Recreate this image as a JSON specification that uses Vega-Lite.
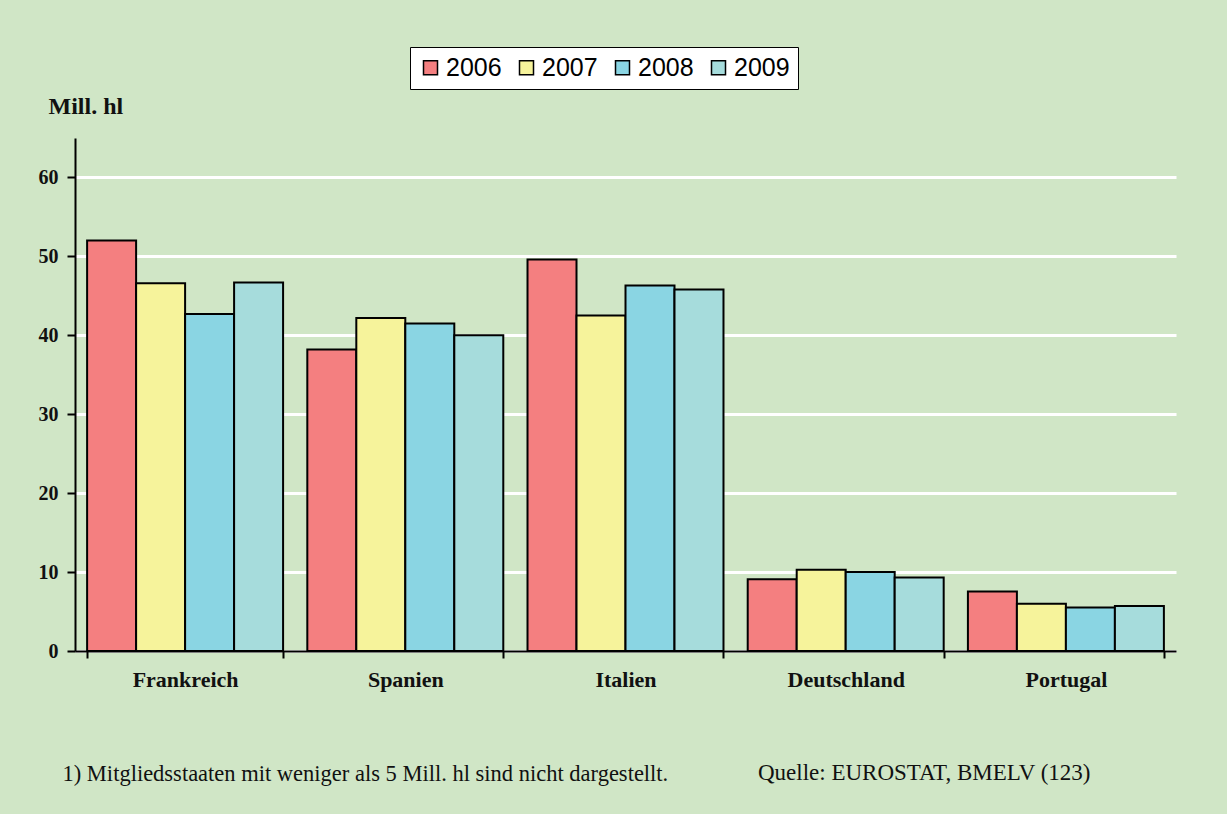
{
  "$schema": "https://vega.github.io/schema/vega-lite/v6.json",
  "background": "#D0E6C6",
  "autosize": "none",
  "width": 1101,
  "height": 513,
  "padding": {"left": 75, "top": 138, "right": 51, "bottom": 163},
  "data": {
    "values": [
      {"land": "Frankreich", "jahr": "2006", "wert": 52.0},
      {"land": "Frankreich", "jahr": "2007", "wert": 46.6},
      {"land": "Frankreich", "jahr": "2008", "wert": 42.7},
      {"land": "Frankreich", "jahr": "2009", "wert": 46.7},
      {"land": "Spanien", "jahr": "2006", "wert": 38.2},
      {"land": "Spanien", "jahr": "2007", "wert": 42.2},
      {"land": "Spanien", "jahr": "2008", "wert": 41.5},
      {"land": "Spanien", "jahr": "2009", "wert": 40.0},
      {"land": "Italien", "jahr": "2006", "wert": 49.6},
      {"land": "Italien", "jahr": "2007", "wert": 42.5},
      {"land": "Italien", "jahr": "2008", "wert": 46.3},
      {"land": "Italien", "jahr": "2009", "wert": 45.8},
      {"land": "Deutschland", "jahr": "2006", "wert": 9.1},
      {"land": "Deutschland", "jahr": "2007", "wert": 10.3},
      {"land": "Deutschland", "jahr": "2008", "wert": 10.0},
      {"land": "Deutschland", "jahr": "2009", "wert": 9.3},
      {"land": "Portugal", "jahr": "2006", "wert": 7.55},
      {"land": "Portugal", "jahr": "2007", "wert": 6.0},
      {"land": "Portugal", "jahr": "2008", "wert": 5.5},
      {"land": "Portugal", "jahr": "2009", "wert": 5.7}
    ]
  },
  "title": {
    "text": "Quelle: EUROSTAT, BMELV (123)",
    "orient": "bottom",
    "anchor": "start",
    "dx": 720,
    "offset": -5,
    "baseline": "alphabetic",
    "font": "Liberation Serif",
    "fontSize": 23,
    "fontWeight": "normal",
    "color": "#111111"
  },
  "mark": {"type": "bar", "stroke": "#000000", "strokeWidth": 2},
  "encoding": {
    "x": {
      "field": "land",
      "type": "nominal",
      "sort": ["Frankreich", "Spanien", "Italien", "Deutschland", "Portugal"],
      "scale": {"paddingInner": 0.11, "paddingOuter": 0.055},
      "axis": {
        "title": "1) Mitgliedsstaaten mit weniger als 5 Mill. hl sind nicht dargestellt.",
        "titleX": -13,
        "titleY": 129,
        "titleAlign": "left",
        "titleAnchor": "start",
        "titleBaseline": "alphabetic",
        "titleFont": "Liberation Serif",
        "titleFontSize": 22.5,
        "titleFontWeight": "normal",
        "titleColor": "#111111",
        "labelAngle": 0,
        "labelFont": "Liberation Serif",
        "labelFontSize": 22,
        "labelFontWeight": "bold",
        "labelColor": "#111111",
        "labelPadding": 11,
        "tickBand": "extent",
        "tickSize": 7,
        "tickWidth": 2,
        "tickColor": "#000000",
        "domainColor": "#000000",
        "domainWidth": 2
      }
    },
    "xOffset": {
      "field": "jahr",
      "type": "nominal",
      "scale": {"paddingInner": 0, "paddingOuter": 0}
    },
    "y": {
      "field": "wert",
      "type": "quantitative",
      "scale": {"domain": [0, 65], "nice": false},
      "axis": {
        "title": "Mill. hl",
        "titleAngle": 0,
        "titleX": -27,
        "titleY": -25,
        "titleAlign": "left",
        "titleBaseline": "alphabetic",
        "titleFont": "Liberation Serif",
        "titleFontSize": 24,
        "titleFontWeight": "bold",
        "titleColor": "#111111",
        "values": [0, 10, 20, 30, 40, 50, 60],
        "grid": true,
        "gridColor": "#FFFFFF",
        "gridWidth": 3,
        "gridOpacity": 1,
        "labelFont": "Liberation Serif",
        "labelFontSize": 20,
        "labelFontWeight": "bold",
        "labelColor": "#111111",
        "labelPadding": 9,
        "tickSize": 8,
        "tickWidth": 2,
        "tickColor": "#000000",
        "domainColor": "#000000",
        "domainWidth": 2
      }
    },
    "color": {
      "field": "jahr",
      "type": "nominal",
      "scale": {
        "domain": ["2006", "2007", "2008", "2009"],
        "range": ["#F47F80", "#F6F39B", "#8AD5E3", "#A6DCDC"]
      },
      "legend": {
        "title": null,
        "orient": "none",
        "direction": "horizontal",
        "legendX": 335,
        "legendY": -91,
        "fillColor": "#FFFFFF",
        "strokeColor": "#000000",
        "padding": 8,
        "symbolType": "square",
        "symbolSize": 196,
        "symbolStrokeColor": "#000000",
        "symbolStrokeWidth": 1.5,
        "symbolOpacity": 1,
        "labelFont": "Liberation Sans",
        "labelFontSize": 25,
        "labelColor": "#000000",
        "labelOffset": 3,
        "columnPadding": 12
      }
    }
  },
  "config": {
    "view": {"stroke": null}
  }
}
